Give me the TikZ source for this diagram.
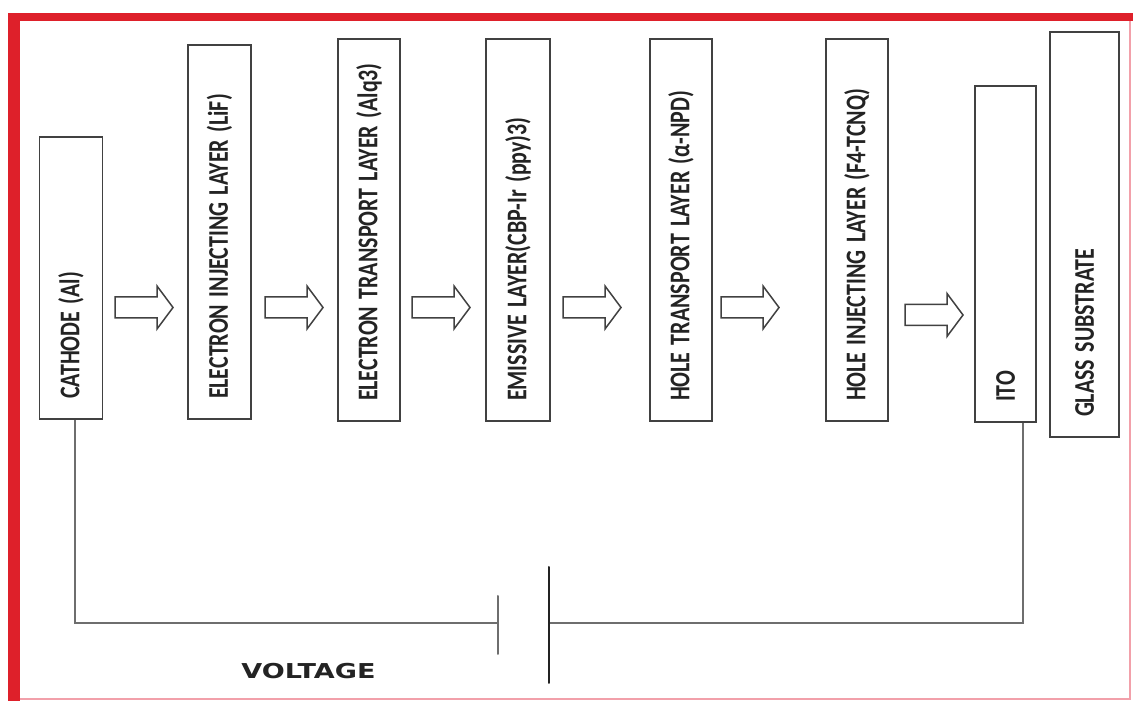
\documentclass[tikz,border=0pt]{standalone}
\usepackage{fontspec}
\newfontfamily\layerfont{Carlito}
\newfontfamily\voltfont{DejaVu Sans}
\usepackage{tikz}
\usetikzlibrary{calc}
\usepackage{tkz-euclide}

\definecolor{framered}{RGB}{222,32,42}
\definecolor{framepink}{RGB}{242,160,170}
\definecolor{boxgray}{RGB}{65,65,65}
\definecolor{wiregray}{RGB}{110,110,110}
\definecolor{inkgray}{RGB}{35,35,35}

\tikzset{
  layer/.style={draw=boxgray, line width=1.9pt, rotate=90, minimum width=#1, text width=#1,
    inner xsep=0pt, inner ysep=0pt, align=left, minimum height=63pt,
    font=\layerfont\bfseries\fontsize{28.5}{30}\selectfont, text=inkgray},
  wire/.style={draw=wiregray, line width=2pt},
  pics/hollowarrow/.style={code={
    \draw[draw=boxgray, line width=1.5pt, fill=white] (0,-10.5) -- (42,-10.5) -- (42,-21.5)
      -- (58,0) -- (42,21.5) -- (42,10.5) -- (0,10.5) -- cycle;}}
}
\newcommand{\lbl}[1]{\noindent\hspace*{20pt}\scalebox{0.77}[1]{#1}}

\begin{document}
\begin{tikzpicture}[x=1pt,y=1pt]
            \useasboundingbox (0,0) rectangle (1133,701);
            \fill[white] (0,0) rectangle (1133,701);
            % frame
            \fill[framered] (8,680) rectangle (1133,688);
            \fill[framered] (8,0) rectangle (20,688);
            \draw[framepink, line width=2pt] (20,2) -- (1130,2) -- (1130,680);
            % layers
            \node[layer=282pt] (cat) at (71,423) {\lbl{CATHODE (Al)}};
            \node[layer=374pt] (eil) at (219.5,469) {\lbl{ELECTRON INJECTING LAYER (LiF)}};
            \node[layer=382pt, minimum height=62pt] (etl) at (369,471) {\lbl{ELECTRON TRANSPORT LAYER (Alq3)}};
            \node[layer=382pt, minimum height=64pt] (eml) at (518,471) {\lbl{EMISSIVE LAYER(CBP-Ir (ppy)3)}};
            \node[layer=382pt, minimum height=62pt] (htl) at (681,471) {\lbl{HOLE TRANSPORT LAYER (α-NPD)}};
            \node[layer=382pt, minimum height=62pt] (hil) at (857,471) {\lbl{HOLE INJECTING LAYER (F4-TCNQ)}};
            \node[layer=336pt, minimum height=61pt] (ito) at (1005.5,447) {\lbl{ITO}};
            \node[layer=405pt, minimum height=69pt] (glass) at (1084.5,466.5) {\lbl{GLASS SUBSTRATE}};
            % arrows
            \pic at (115,393.5) {hollowarrow};
            \pic at (265,393.5) {hollowarrow};
            \pic at (412,393.5) {hollowarrow};
            \pic at (563,393.5) {hollowarrow};
            \pic at (721,393.5) {hollowarrow};
            \pic at (905,386) {hollowarrow};
            % circuit
            \tkzDefPoint(498,78){N}
            \tkzDefPoint(549,78){P}
            \tkzDefPoint(498,47){Na}
            \tkzDefPoint(498,105){Nb}
            \tkzDefPoint(549,18){Pa}
            \tkzDefPoint(549,134){Pb}
            \coordinate (catleg) at ([xshift=4pt]cat.west);
            \coordinate (itoleg) at ([xshift=17.5pt]ito.west);
            \draw[wire] (catleg) |- (N);
            \draw[wire] (itoleg) |- (P);
            \tkzDrawSegments[color=wiregray, line width=2pt](Na,Nb)
            \tkzDrawSegments[color=inkgray, line width=2pt](Pa,Pb)
            \node[font=\voltfont\bfseries\fontsize{20.5}{22}\selectfont, text=inkgray, inner sep=0pt] (volt)
                at (308.5,29.5) {\scalebox{1.32}[1]{VOLTAGE}};
\end{tikzpicture}
\end{document}
